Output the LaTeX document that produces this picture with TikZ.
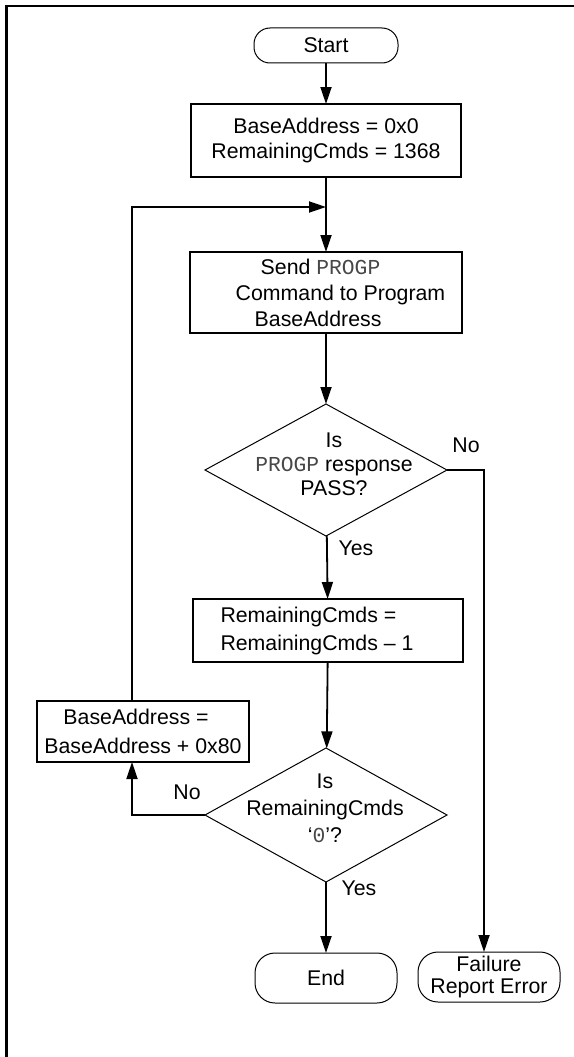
\documentclass[tikz,border=0pt]{standalone}
\usepackage{fontspec}
\setmainfont{Liberation Sans}
\setmonofont{Liberation Mono}
\usetikzlibrary{arrows.meta,shapes.geometric}
\newcommand{\mymono}[1]{{\color{black!72}\texttt{#1}}}
\begin{document}
\begin{tikzpicture}[x=1pt,y=-1pt,
  every node/.style={font=\fontsize{21.3}{25}\selectfont, inner sep=0pt, outer sep=0pt},
  procbox/.style={draw, line width=1.8pt, align=center},
  term/.style={draw, line width=1pt, align=center},
  dia/.style={draw, line width=1pt, diamond, inner sep=0pt},
  conn/.style={line width=1.8pt, line join=miter, -{Triangle[length=17pt,width=11pt]}},
  lbl/.style={font=\fontsize{21.3}{25}\selectfont}]
\useasboundingbox (0,0) rectangle (573,1057);
% frame
\draw[line width=2.4pt, line join=miter] (6.5,1065) -- (6.5,6) -- (580,6);
% nodes
\node[term, rounded corners=16pt, minimum width=144pt, minimum height=35pt] (start) at (326,45.5) {Start};
\node[procbox, minimum width=270pt, minimum height=73pt] (b1) at (326,140.5) {BaseAddress = 0x0\\RemainingCmds = 1368};
\node[procbox, minimum width=272pt, minimum height=81pt, align=left, font=\fontsize{21.3}{26}\selectfont] (b2) at (326,292.5)
  {\hspace*{54pt}Send \mymono{PROGP}\\\hspace*{29pt}Command to Program\\\hspace*{48pt}BaseAddress};
\node[dia, minimum width=242pt, minimum height=132pt] (d1) at (326,470) {};
\node[align=center, font=\fontsize{21.3}{24}\selectfont] (d1t) at (334,464) {Is\\\mymono{PROGP} response\\PASS?};
\node[procbox, minimum width=270pt, minimum height=63pt, align=left, font=\fontsize{21.3}{28}\selectfont] (b3) at (328,630.5)
  {RemainingCmds =\\RemainingCmds \textendash{} 1\hspace*{22pt}};
\node[procbox, minimum width=212pt, minimum height=61pt, font=\fontsize{21.3}{29}\selectfont] (b4) at (143,731.5)
  {BaseAddress =\hspace*{14pt}\\BaseAddress + 0x80};
\node[dia, minimum width=242pt, minimum height=134pt] (d2) at (326,815) {};
\node[align=center, font=\fontsize{21.3}{27}\selectfont] (d2t) at (325,808) {Is\\RemainingCmds\\‘\mymono{0}’?};
\node[term, rounded corners=20pt, minimum width=142pt, minimum height=50pt] (end) at (326,978) {End};
\node[term, rounded corners=20pt, minimum width=142pt, minimum height=50pt, font=\fontsize{21.3}{21.5}\selectfont] (fail) at (489,977) {Failure\\Report Error};
% helper coordinates
\coordinate (j) at (326,207);
\coordinate (lc) at (132,207);
\coordinate (rc) at (484,470);
% connectors
\draw[conn] (start) -- (b1);
\draw[conn] (b1) -- (b2);
\draw[conn] (b4.north -| lc) -- (lc) -- (j);
\draw[conn] (b2) -- (d1);
\draw[conn] (d1) -- (b3);
\draw[conn] (d1.east) -- (rc) -- (rc |- fail.north);
\draw[conn] (b3) -- (d2);
\draw[conn] (d2.west) -- (d2.west -| lc) -- (lc |- b4.south);
\draw[conn] (d2) -- (end);
% labels
\node[lbl] (yes1) at (356,548) {Yes};
\node[lbl] (no1) at (466,445) {No};
\node[lbl] (no2) at (187,792) {No};
\node[lbl] (yes2) at (359,888) {Yes};
\end{tikzpicture}
\end{document}
